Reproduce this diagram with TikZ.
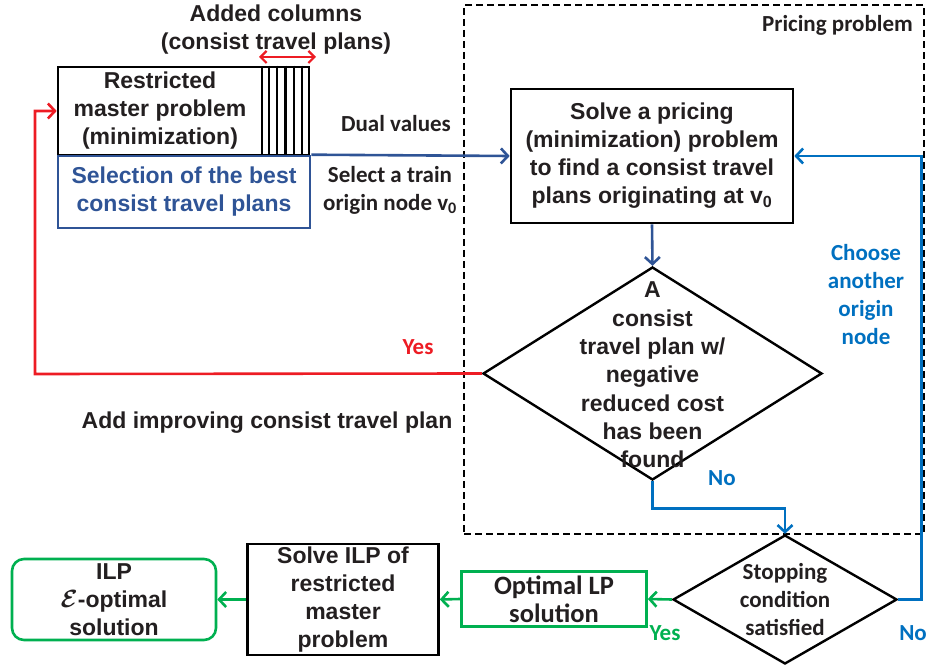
\documentclass[tikz,border=0pt]{standalone}
\usepackage{fontspec}
\setmainfont{Liberation Sans}
\newfontfamily\calfont{Carlito}
\usetikzlibrary{arrows.meta,shapes.geometric,calc}
\definecolor{myred}{RGB}{237,28,36}
\definecolor{dblue}{RGB}{47,84,150}
\definecolor{lblue}{RGB}{0,112,192}
\definecolor{mygreen}{RGB}{0,176,80}
\definecolor{txtgray}{RGB}{35,31,32}
\begin{document}
\begin{tikzpicture}[x=1pt,y=-1pt,
  af/.style={font=\bfseries\fontsize{23}{28}\selectfont, text=txtgray, align=center, inner sep=0pt},
  cf/.style={font=\calfont\bfseries\fontsize{23}{28}\selectfont, text=txtgray, align=center, inner sep=0pt},
  box/.style={draw, line width=2.6pt, inner sep=0pt, align=center},
  dia/.style={draw, diamond, line width=2.4pt, inner sep=0pt},
  conn/.style={line width=2.6pt, -{Straight Barb[length=7pt,width=15pt]}},
]
\useasboundingbox (0,0) rectangle (930,671);

% pricing region
\node[draw, dash pattern=on 7pt off 4pt, line width=1.8pt, minimum width=460pt, minimum height=529pt, inner sep=0pt] (region) at (694,269.5) {};

% restricted master problem
\node[box, af, minimum width=204pt, minimum height=88pt] (rmp) at (160,111) {Restricted\\master problem\\(minimization)};
\node[box, minimum width=47pt, minimum height=88pt] (cols) at (285.5,111) {};
\foreach \k in {1,...,5}
  \draw[line width=2.4pt] ($(cols.north west)!\k/6!(cols.north east)$) -- ($(cols.south west)!\k/6!(cols.south east)$);
\node[box, af, draw=dblue, text=dblue, minimum width=252pt, minimum height=72pt] (sel) at (184,192) {Selection of the best\\consist travel plans};

% pricing box
\node[box, af, minimum width=282pt, minimum height=134pt] (pricing) at (652,156) {Solve a pricing\\(minimization) problem\\to find a consist travel\\plans originating at v\textsubscript{0}};

% decision 1
\node[dia, minimum width=339pt, minimum height=213pt] (d1) at (652.5,373.5) {};
\node[af, font=\bfseries\fontsize{23}{28.3}\selectfont] (d1txt) at (652.5,375) {A\\consist\\travel plan w/\\negative\\reduced cost\\has been\\found};

% decision 2
\node[dia, minimum width=224pt, minimum height=129pt] (d2) at (785,599.5) {};
\node[cf] (d2txt) at (785,600) {Stopping\\condition\\satisfied};

% bottom row
\node[box, cf, font=\calfont\bfseries\fontsize{26.5}{28}\selectfont, draw=mygreen, minimum width=185pt, minimum height=55pt] (opt) at (554,599) {Optimal LP\\solution};
\node[box, af, minimum width=191pt, minimum height=111pt] (ilp) at (343,599.5) {Solve ILP of\\restricted\\master\\problem};
\node[box, af, draw=mygreen, rounded corners=12pt, minimum width=204pt, minimum height=81pt] (res) at (114,599.5) {ILP\\{\boldmath$\mathcal{E}$}-optimal\\solution};

% labels
\node[af] (addcol) at (276,30) {Added columns\\(consist travel plans)};
\coordinate (ca) at (259,57);
\coordinate (cb) at (316,57);
\draw[myred, line width=2.2pt, {Straight Barb[length=6pt,width=12pt]}-{Straight Barb[length=6pt,width=12pt]}] (ca) -- (cb);
\node[cf] (dual) at (396,124) {Dual values};
\node[cf] (seltrain) at (390,190) {Select a train\\origin node v\textsubscript{0}};
\node[cf, anchor=east] (prlabel) at (913,25) {Pricing problem};
\node[cf, text=myred] (yes1) at (418,347) {Yes};
\node[af] (addimp) at (267,423) {Add improving consist travel plan};
\node[cf, text=lblue] (no1) at (722,478) {No};
\node[cf, text=lblue] (choose) at (866,295) {Choose\\another\\origin\\node};
\node[cf, text=lblue] (no2) at (913,633) {No};
\node[cf, text=mygreen] (yes2) at (665,633) {Yes};

% connectors
\draw[conn, dblue] (sel.north east) -- (pricing.west);
\draw[conn, dblue] (pricing.south) -- (d1.north);
\coordinate (redcorner) at (35,374);
\draw[conn, myred] (d1.west) -- (redcorner) |- (rmp.west);
\draw[conn, lblue] (d1.south) -- ++(0,27) -| (d2.north);
\draw[conn, lblue] (d2.east) -- ++(23,0) |- (pricing.east);
\draw[conn, mygreen] (d2.west) -- (opt.east);
\draw[conn, mygreen] (opt.west) -- (ilp.east);
\draw[conn, mygreen] (ilp.west) -- (res.east);
\end{tikzpicture}
\end{document}
